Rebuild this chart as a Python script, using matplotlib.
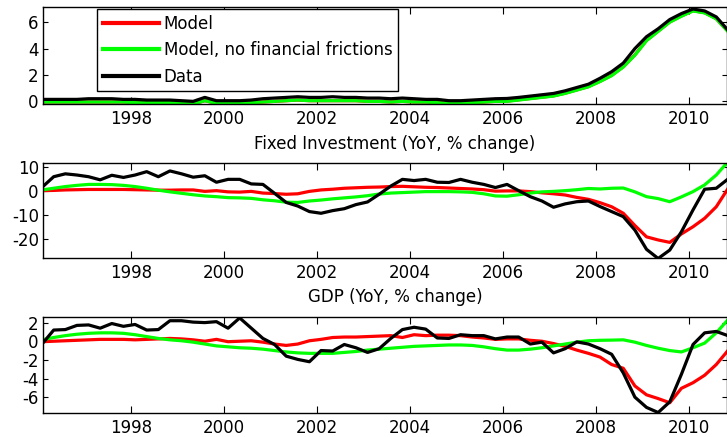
import numpy as np
import matplotlib
matplotlib.use("Agg")
import matplotlib.pyplot as plt

# quarterly observations, 1996 - 2010
quarters = 1996.09 + 0.25 * np.arange(60)

# Fixed Investment panel (top)
inv_model = [-0.05, -0.05, -0.05, -0.05, -0.05, -0.05, -0.05, -0.05, -0.1, -0.1,
             -0.1, -0.1, -0.15, -0.2, 0.05, -0.15, -0.15, -0.15, -0.1, -0.05,
             0.0, 0.05, 0.1, 0.05, 0.05, 0.05, 0.05, 0.05, 0.0, 0.0,
             -0.05, 0.0, -0.05, -0.05, -0.1, -0.15, -0.15, -0.1, -0.05, 0.0,
             0.02, 0.12, 0.22, 0.32, 0.42, 0.62, 0.87, 1.12, 1.52, 1.97,
             2.62, 3.52, 4.62, 5.32, 6.02, 6.47, 6.87, 6.72, 6.27, 5.32]
inv_nofric = [-0.05, -0.05, -0.05, -0.05, -0.05, -0.05, -0.05, -0.05, -0.1, -0.1,
              -0.1, -0.1, -0.15, -0.2, 0.05, -0.15, -0.15, -0.15, -0.1, -0.05,
              0.0, 0.05, 0.1, 0.05, 0.05, 0.05, 0.05, 0.05, 0.0, 0.0,
              -0.05, 0.0, -0.05, -0.05, -0.1, -0.15, -0.15, -0.1, -0.05, 0.0,
              0.0, 0.1, 0.2, 0.3, 0.4, 0.6, 0.85, 1.1, 1.5, 1.95,
              2.6, 3.5, 4.6, 5.3, 6.0, 6.45, 6.85, 6.7, 6.25, 5.3]
inv_data = [0.15, 0.15, 0.15, 0.15, 0.2, 0.2, 0.2, 0.15, 0.15, 0.1,
            0.1, 0.1, 0.05, 0.0, 0.3, 0.05, 0.05, 0.05, 0.1, 0.2,
            0.25, 0.3, 0.35, 0.3, 0.3, 0.35, 0.3, 0.3, 0.25, 0.25,
            0.2, 0.25, 0.2, 0.15, 0.15, 0.05, 0.05, 0.1, 0.15, 0.2,
            0.22, 0.3, 0.4, 0.5, 0.6, 0.8, 1.05, 1.3, 1.75, 2.25,
            2.9, 4.0, 4.9, 5.5, 6.2, 6.65, 7.0, 6.85, 6.4, 5.4]

# GDP panel (middle)
gdp_model = [0.0, 0.1, 0.3, 0.4, 0.5, 0.5, 0.5, 0.5, 0.4, 0.3,
             0.2, 0.2, 0.3, 0.3, -0.3, 0.0, -0.5, -0.6, -0.3, -1.0,
             -1.2, -1.5, -1.3, -0.3, 0.3, 0.6, 1.0, 1.2, 1.4, 1.5,
             1.7, 1.8, 1.6, 1.4, 1.3, 1.1, 0.9, 0.7, 0.4, -0.2,
             -0.1, -0.1, -0.4, -0.9, -1.3, -1.8, -2.8, -3.6, -5.0, -6.7,
             -9.4, -14.5, -19.2, -20.5, -21.5, -18.0, -15.0, -11.5, -6.7, 0.8]
gdp_nofric = [0.3, 1.0, 1.7, 2.2, 2.6, 2.6, 2.5, 2.2, 1.7, 1.0,
              0.2, -0.5, -1.1, -1.7, -2.2, -2.5, -2.9, -3.0, -3.2, -3.8,
              -4.2, -4.8, -4.9, -4.3, -3.9, -3.4, -3.0, -2.6, -2.1, -1.4,
              -1.0, -0.8, -0.6, -0.4, -0.4, -0.4, -0.5, -0.7, -1.3, -2.2,
              -2.3, -1.7, -1.0, -0.5, -0.3, 0.0, 0.4, 0.9, 0.7, 1.0,
              1.1, -0.5, -2.5, -3.3, -4.6, -2.6, -0.4, 2.4, 6.5, 12.0]
gdp_data = [1.4, 5.8, 7.0, 6.5, 5.8, 4.5, 6.4, 5.5, 6.5, 7.9,
            5.8, 8.2, 7.0, 5.6, 6.2, 3.5, 4.7, 4.7, 2.8, 2.6,
            -1.1, -4.9, -6.4, -8.7, -9.4, -8.3, -7.5, -5.8, -4.7, -1.5,
            1.9, 4.7, 4.2, 4.7, 3.5, 3.4, 4.7, 3.5, 2.6, 1.3,
            2.6, 0.0, -2.5, -4.3, -6.9, -5.5, -4.6, -4.3, -6.6, -8.7,
            -10.8, -16.4, -24.4, -28.2, -24.7, -17.1, -8.0, 0.6, 1.0, 4.8]

# bottom panel
c_model = [-0.05, 0.0, 0.05, 0.1, 0.15, 0.2, 0.2, 0.2, 0.15, 0.2,
           0.25, 0.3, 0.25, 0.15, 0.0, 0.2, -0.05, 0.0, 0.05, -0.1,
           -0.3, -0.45, -0.3, 0.05, 0.2, 0.4, 0.45, 0.45, 0.5, 0.55,
           0.6, 0.4, 0.7, 0.6, 0.65, 0.65, 0.6, 0.45, 0.35, 0.2,
           0.25, 0.25, 0.1, 0.0, -0.25, -0.55, -0.95, -1.3, -1.7, -2.5,
           -2.9, -4.8, -5.75, -6.15, -6.6, -5.05, -4.45, -3.65, -2.5, -1.0]
c_nofric = [0.15, 0.4, 0.6, 0.75, 0.85, 0.9, 0.9, 0.85, 0.7, 0.5,
            0.3, 0.15, 0.05, -0.1, -0.3, -0.5, -0.6, -0.7, -0.75, -0.85,
            -1.0, -1.15, -1.25, -1.3, -1.3, -1.3, -1.2, -1.1, -0.95, -0.85,
            -0.75, -0.65, -0.55, -0.5, -0.45, -0.4, -0.4, -0.45, -0.6, -0.8,
            -0.95, -0.95, -0.85, -0.7, -0.5, -0.3, -0.1, 0.05, 0.1, 0.12,
            0.15, -0.1, -0.45, -0.75, -1.0, -1.15, -0.7, -0.2, 0.9, 2.3]
c_data = [-0.3, 1.2, 1.25, 1.7, 1.75, 1.4, 1.9, 1.6, 1.8, 1.2,
          1.25, 2.2, 2.2, 2.05, 2.0, 2.1, 1.4, 2.5, 1.4, 0.3,
          -0.35, -1.6, -1.95, -2.2, -1.0, -1.05, -0.35, -0.7, -1.2, -0.8,
          0.3, 1.25, 1.5, 1.3, 0.35, 0.3, 0.7, 0.6, 0.6, 0.25,
          0.45, 0.45, -0.3, -0.1, -1.25, -0.8, -0.07, -0.3, -0.8, -1.4,
          -3.4, -6.0, -7.1, -7.65, -6.5, -3.55, -0.35, 0.9, 1.05, 0.6]

labels = ["Model", "Model, no financial frictions", "Data"]
colors = ["#ff0000", "#00ff00", "#000000"]
year_ticks = [1998, 2000, 2002, 2004, 2006, 2008, 2010]

plt.rcParams["font.family"] = "DejaVu Sans"
plt.rcParams["font.size"] = 12
plt.rcParams["axes.unicode_minus"] = False

fig = plt.figure(figsize=(7.27, 4.37), dpi=100)

left, width = 43 / 727, 683.5 / 727
panels = [
    ([left, 1 - 104 / 437, width, 97 / 437], (inv_model, inv_nofric, inv_data),
     (-0.2, 7.15), [0, 2, 4, 6], "Fixed Investment (YoY, % change)"),
    ([left, 1 - 258 / 437, width, 95 / 437], (gdp_model, gdp_nofric, gdp_data),
     (-28.0, 11.5), [-20, -10, 0, 10], "GDP (YoY, % change)"),
    ([left, 1 - 413 / 437, width, 96 / 437], (c_model, c_nofric, c_data),
     (-7.7, 2.6), [-6, -4, -2, 0, 2], None),
]

axes = []
for rect, series, ylim, yticks, xlabel in panels:
    ax = fig.add_axes(rect)
    for vals, lab, col in zip(series, labels, colors):
        ax.plot(quarters, vals, color=col, linewidth=2.3, label=lab)
    ax.set_xlim(1996.11, 2010.81)
    ax.set_ylim(*ylim)
    ax.set_xticks(year_ticks)
    ax.set_yticks(yticks)
    ax.tick_params(axis="x", direction="in", top=True, length=5, width=0.8, pad=4)
    ax.tick_params(axis="y", direction="in", right=True, length=3.5, width=0.8, pad=3)
    for sp in ax.spines.values():
        sp.set_linewidth(1.0)
    if xlabel:
        ax.set_xlabel(xlabel)
        ax.xaxis.set_label_coords(0.515, -0.32)
    axes.append(ax)

leg = axes[0].legend(loc="upper left", bbox_to_anchor=(97 / 727, 1 - 9 / 437),
                     bbox_transform=fig.transFigure, borderaxespad=0,
                     fancybox=False, framealpha=1, edgecolor="black",
                     handlelength=3.35, handletextpad=0.3, labelspacing=0.5,
                     borderpad=0.35)
leg.get_frame().set_linewidth(1.0)
for line in leg.get_lines():
    line.set_linewidth(3.0)

fig.savefig("out.png", dpi=100)
